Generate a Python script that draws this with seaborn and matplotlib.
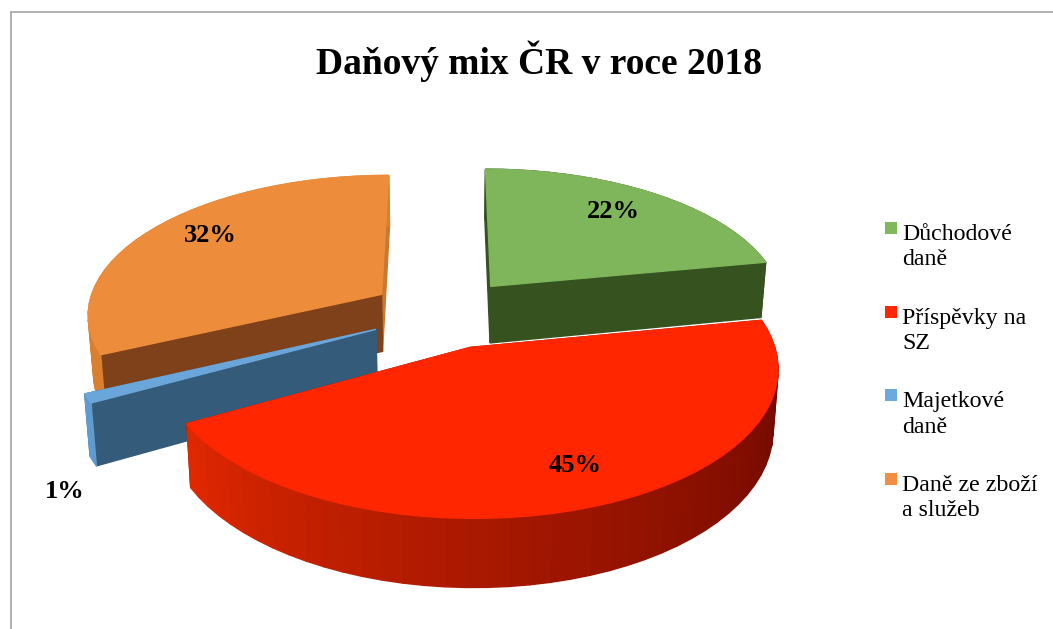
import numpy as np
import matplotlib
matplotlib.use("Agg")
import matplotlib.pyplot as plt
from matplotlib.colors import to_rgb
from matplotlib.patches import Polygon, Rectangle
from matplotlib.lines import Line2D
import seaborn as sns

# Tax mix of the Czech Republic, 2018 (share of total, %)
categories = ["Důchodové\ndaně", "Příspěvky na\nSZ", "Majetkové\ndaně", "Daně ze zboží\na služeb"]
shares = [22, 45, 1, 32]
share_labels = ["22%", "45%", "1%", "32%"]
title_text = "Daňový mix ČR v roce 2018"

top_colors = ["#7FB55B", "#FF2600", "#6AA6DA", "#ED8D3B"]
legend_colors = ["#7FB95C", "#FF2600", "#6CA9DC", "#F28E40"]
cut_first_colors = ["#35521F", "#8A1500", "#355B7A", "#7E411A"]
cut_last_colors = ["#35521F", "#8A1500", "#355B7A", "#C87830"]
wall_start = ["#35521F", "#6E0800", "#5F9BCE", "#D9802F"]
wall_end = ["#35521F", "#E02800", "#5F9BCE", "#D9802F"]

# Camera and layout, in figure pixels
CX, CY = 444.0, 313.0
SCALE = 295.0
TILT = 0.471
PERSPECTIVE = 0.13
THICKNESS = 58.0
EXPLODE = 0.255
TAPER = 0.015
label_xy = [(613, 211), (575, 465), (65, 492), (210, 235)]

sns.set_theme(style="white")
plt.rcParams["font.family"] = ["Liberation Serif", "DejaVu Serif"]

fig = plt.figure(figsize=(10.53, 6.29), dpi=100)
ax = fig.add_axes([0, 0, 1, 1])
ax.set_xlim(0, 1053)
ax.set_ylim(629, 0)
ax.axis("off")


def project(u, v, z=0.0):
    """Project ground coordinates (u right, v away, z down) to the canvas."""
    w = 1.0 + PERSPECTIVE * v
    taper = 1.0 - TAPER * z
    return (CX + SCALE * u / w * taper, CY - SCALE * TILT * v / w + THICKNESS * z / w)


def mix(a, b, t):
    a, b = np.array(to_rgb(a)), np.array(to_rgb(b))
    return tuple(a + (b - a) * t)


def face(points, color, zorder):
    ax.add_patch(Polygon(points, closed=True, facecolor=color, edgecolor=color,
                         linewidth=1.0, zorder=zorder))


edges = np.concatenate([[0.0], np.cumsum(shares)]) / np.sum(shares) * 360.0
draw_order = [3, 0, 2, 1]

for depth, i in enumerate(draw_order):
    start, stop = np.radians(edges[i]), np.radians(edges[i + 1])
    middle = (start + stop) / 2
    apex_u, apex_v = EXPLODE * np.sin(middle), EXPLODE * np.cos(middle)
    theta = np.linspace(start, stop, max(3, int((edges[i + 1] - edges[i]) / 3.4)))
    rim_u, rim_v = apex_u + np.sin(theta), apex_v + np.cos(theta)
    base = depth * 10

    # the two radial cut faces; the face at the end of the slice goes on first
    for j, color in ((-1, cut_last_colors[i]), (0, cut_first_colors[i])):
        quad = [project(apex_u, apex_v), project(rim_u[j], rim_v[j]),
                project(rim_u[j], rim_v[j], 1), project(apex_u, apex_v, 1)]
        face(quad, color, base + 1)

    # outer wall, split into facets with a left-to-right shading ramp
    for k in range(len(theta) - 1):
        t = (k / max(1, len(theta) - 2)) ** 1.4
        quad = [project(rim_u[k], rim_v[k]), project(rim_u[k + 1], rim_v[k + 1]),
                project(rim_u[k + 1], rim_v[k + 1], 1), project(rim_u[k], rim_v[k], 1)]
        face(quad, mix(wall_start[i], wall_end[i], t), base + 2)

    # top surface
    outline = [project(apex_u, apex_v)] + [project(a, b) for a, b in zip(rim_u, rim_v)]
    face(outline, top_colors[i], base + 3)

    ax.text(*label_xy[i], share_labels[i], ha="center", va="center", fontsize=19,
            fontweight="bold", color="black", zorder=100)

ax.text(539.5, 61, title_text, ha="center", va="center", fontsize=27,
        fontweight="bold", color="black")

# Legend: square swatch aligned with the first text line of each entry
for n, (name, color) in enumerate(zip(categories, legend_colors)):
    top = 222 + n * 83.7
    ax.add_patch(Rectangle((885, top), 12, 12, facecolor=color, edgecolor="none"))
    ax.text(902, top + 2, name, ha="left", va="top", fontsize=17.2, color="black",
            linespacing=1.27)

# Chart frame
frame = "#A3A3A3"
ax.add_line(Line2D([10.5, 10.5], [629, 11.5], color=frame, lw=1.2))
ax.add_line(Line2D([10.5, 1053], [11.5, 11.5], color=frame, lw=1.2))

fig.savefig("out.png", dpi=100)
